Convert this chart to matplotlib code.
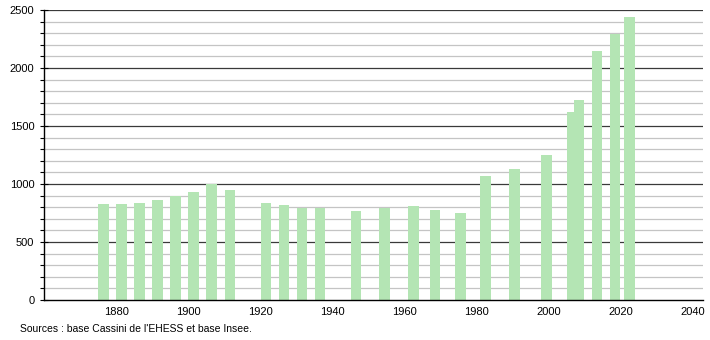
import matplotlib
matplotlib.use("Agg")
import matplotlib.pyplot as plt
import numpy as np

years = [1876, 1881, 1886, 1891, 1896, 1901, 1906, 1911, 1921, 1926, 1931, 1936,
         1946, 1954, 1962, 1968, 1975, 1982, 1990, 1999, 2006, 2008, 2013, 2018, 2022]
population = [829, 829, 840, 863, 895, 932, 998, 949, 840, 820, 794, 794,
              771, 794, 811, 777, 751, 1073, 1131, 1251, 1623, 1726, 2149, 2296, 2443]
x_ticks = [1880, 1900, 1920, 1940, 1960, 1980, 2000, 2020, 2040]
y_ticks = [0, 500, 1000, 1500, 2000, 2500]
source_text = "Sources : base Cassini de l'EHESS et base Insee."

plt.rcParams['font.family'] = ['Liberation Sans', 'DejaVu Sans']

fig = plt.figure(figsize=(7.1, 3.4), dpi=100)
ax = fig.add_axes([44/710, 40/340, (703-44)/710, 290/340])

ax.set_xlim(1859.8, 2042.8)
ax.set_ylim(0, 2500)

# grid
for v in range(100, 2500, 100):
    if v % 500 != 0:
        ax.axhline(v, color='#c4c4c4', lw=0.9, zorder=0)
for v in y_ticks[1:]:
    ax.axhline(v, color='#3a3a3a', lw=0.9, zorder=0)

ax.bar(np.array(years) + 0.4, population, width=2.95, color='#b4e5b4', zorder=2)

for s in ['top', 'right']:
    ax.spines[s].set_visible(False)
ax.spines['left'].set_color('black')
ax.spines['bottom'].set_color('black')
ax.spines['left'].set_linewidth(1)
ax.spines['bottom'].set_linewidth(1)

ax.set_yticks(y_ticks)
ax.set_yticks(range(0, 2501, 100), minor=True)
ax.tick_params(axis='y', which='major', direction='inout', length=6, width=0.8, labelsize=8, pad=4)
ax.tick_params(axis='y', which='minor', direction='out', length=3, width=0.8)
ax.set_xticks(x_ticks)
ax.tick_params(axis='x', which='major', length=0, labelsize=8, pad=5)

fig.text(20/710, 1 - 329/340, source_text, fontsize=7.5, va='center', ha='left')

fig.savefig("out.png", dpi=100)
